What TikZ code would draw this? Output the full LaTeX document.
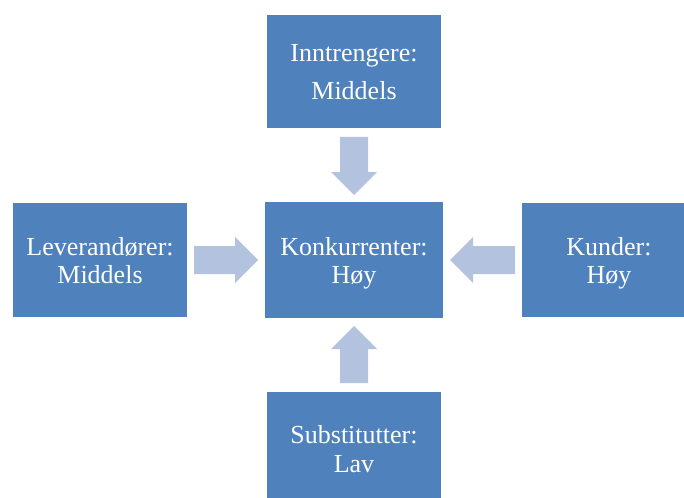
\documentclass[tikz,border=0pt]{standalone}
\usepackage{fontspec}
\setmainfont{Liberation Serif}
\definecolor{boxblue}{HTML}{4F81BD}
\definecolor{arrowblue}{HTML}{B3C3DF}
\begin{document}
\begin{tikzpicture}[x=1pt,y=-1pt,
  forcebox/.style={fill=boxblue,draw=none,minimum width=174pt,inner sep=0pt,outer sep=0pt},
  lbl/.style={text=white,font=\fontsize{26}{30}\selectfont,anchor=base,inner sep=0pt},
  blockarrow/.style={fill=arrowblue,draw=none}]
\useasboundingbox (0,0) rectangle (684,497);
\clip (0,0) rectangle (684,497);
\fill[white] (0,0) rectangle (684,497);
% boxes
\node[forcebox,minimum height=113pt] (top) at (354,71.5) {};
\node[forcebox,minimum height=116pt,minimum width=178pt] (mid) at (354,260) {};
\node[forcebox,minimum height=114pt] (left) at (100,260) {};
\node[forcebox,minimum height=114pt] (right) at (609,260) {};
\node[forcebox,minimum height=113pt] (bot) at (354,448.5) {};
% texts
\node[lbl] (t1) at (354,62) {Inntrengere:};
\node[lbl] (t2) at (354,100) {Middels};
\node[lbl] (m1) at (354,255) {Konkurrenter:};
\node[lbl] (m2) at (354,283) {Høy};
\node[lbl] (l1) at (100,255) {Leverandører:};
\node[lbl] (l2) at (100,283) {Middels};
\node[lbl] (r1) at (609,255) {Kunder:};
\node[lbl] (r2) at (609,283) {Høy};
\node[lbl] (b1) at (354,443) {Substitutter:};
\node[lbl] (b2) at (354,472) {Lav};
% block arrows
\fill[blockarrow] (340,137) -- (368,137) -- (368,172) -- (377,172) -- (354,195) -- (331,172) -- (340,172) -- cycle;
\fill[blockarrow] (340,383) -- (368,383) -- (368,349) -- (377,349) -- (354,326) -- (331,349) -- (340,349) -- cycle;
\fill[blockarrow] (194,246) -- (235,246) -- (235,237) -- (258,260) -- (235,283) -- (235,274) -- (194,274) -- cycle;
\fill[blockarrow] (515,246) -- (473,246) -- (473,237) -- (450,260) -- (473,283) -- (473,274) -- (515,274) -- cycle;
\end{tikzpicture}
\end{document}
